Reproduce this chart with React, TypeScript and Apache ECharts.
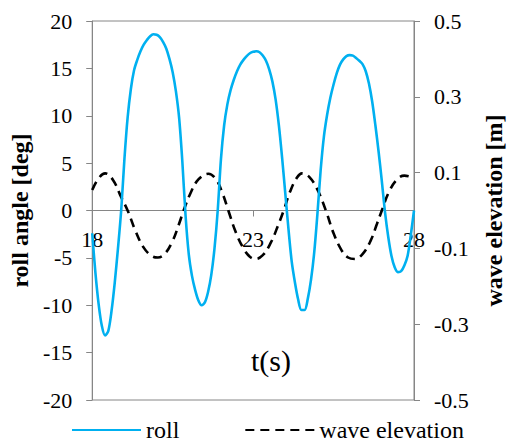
import React, { useEffect, useRef } from "react";
import * as echarts from "echarts";

// time [s] and roll angle [deg]
const rollTime = [
  18.0, 18.1, 18.2, 18.3, 18.4, 18.5, 18.6, 18.7, 18.8, 18.9,
  19.0, 19.1, 19.2, 19.3, 19.4, 19.5, 19.6, 19.7, 19.8, 19.9,
  20.0, 20.1, 20.2, 20.3, 20.4, 20.5, 20.6, 20.7, 20.8, 20.9,
  21.0, 21.1, 21.2, 21.3, 21.4, 21.5, 21.6, 21.7, 21.8, 21.9,
  22.0, 22.1, 22.2, 22.3, 22.4, 22.5, 22.6, 22.7, 22.8, 22.9,
  23.0, 23.1, 23.2, 23.3, 23.4, 23.5, 23.6, 23.7, 23.8, 23.9,
  24.0, 24.1, 24.2, 24.3, 24.4, 24.5, 24.6, 24.7, 24.8, 24.9,
  25.0, 25.1, 25.2, 25.3, 25.4, 25.5, 25.6, 25.7, 25.8, 25.9,
  26.0, 26.1, 26.2, 26.3, 26.4, 26.5, 26.6, 26.7, 26.8, 26.9,
  27.0, 27.1, 27.2, 27.3, 27.4, 27.5, 27.6, 27.7, 27.8, 27.9,
  28.0,
];
const rollValues = [
  -2.4, -6.6, -9.9, -12.2, -13.2, -12.7, -10.6, -7.6, -4.0, 0.0,
  5.4, 9.8, 12.8, 14.8, 15.9, 16.8, 17.5, 18.0, 18.4, 18.6,
  18.55, 18.3, 17.8, 17.1, 16.0, 14.6, 12.6, 9.8, 5.2, -0.5,
  -4.6, -6.9, -8.4, -9.5, -10.0, -9.7, -8.6, -6.8, -4.0, 0.0,
  5.4, 9.0, 11.2, 12.7, 13.8, 14.7, 15.4, 15.9, 16.3, 16.6,
  16.75, 16.8, 16.7, 16.35, 15.8, 14.9, 13.6, 11.7, 9.0, 5.6,
  1.8, -2.0, -5.4, -7.6, -9.4, -10.5, -10.5, -9.3, -7.3, -4.4,
  -0.3, 4.3, 7.8, 10.1, 11.9, 13.3, 14.5, 15.4, 15.95, 16.3,
  16.4, 16.35, 16.1, 15.8, 15.45, 14.7, 13.4, 11.5, 9.0, 6.2,
  3.1, -0.2, -2.8, -4.8, -6.0, -6.5, -6.4, -5.8, -4.8, -2.6,
  0.0,
];

// time [s] and wave elevation [m]
const waveTime = [
  18.0, 18.2, 18.4, 18.65, 18.9, 19.1, 19.35, 19.6, 19.85, 20.04, 20.25, 20.5, 20.7, 20.84, 21.05, 21.3,
  21.61, 21.85, 22.05, 22.23, 22.45, 22.7, 22.9, 23.07, 23.3, 23.55, 23.75, 23.95, 24.15, 24.35, 24.52, 24.75,
  25.0, 25.26, 25.5, 25.75, 25.95, 26.16, 26.4, 26.65, 26.85, 27.0, 27.2, 27.45, 27.7, 27.85, 28.0,
];
const waveValues = [
  0.054, 0.085, 0.098, 0.08, 0.035, 0.0, -0.055, -0.098, -0.12, -0.124, -0.115, -0.08, -0.035, 0.0, 0.045, 0.082,
  0.097, 0.082, 0.045, 0.0, -0.055, -0.1, -0.122, -0.128, -0.118, -0.085, -0.045, 0.0, 0.05, 0.085, 0.098, 0.088,
  0.055, 0.0, -0.06, -0.105, -0.124, -0.128, -0.115, -0.08, -0.035, 0.0, 0.045, 0.08, 0.092, 0.09, 0.086,
];

const xTicks = [18, 23, 28];
const rightTicks = [-0.5, -0.3, -0.1, 0.1, 0.3, 0.5];

const FONT = "Liberation Serif";
const AXIS_GRAY = "#868686";

export default function App() {
  const ref = useRef<HTMLDivElement>(null);
  useEffect(() => {
    const chart = echarts.init(ref.current!, null, { renderer: "svg" });
    chart.setOption({
      animation: false,
      textStyle: { fontFamily: FONT },
      grid: {
        left: 90,
        right: 89,
        top: 21,
        bottom: 43,
        show: true,
        borderColor: AXIS_GRAY,
        borderWidth: 1,
      },
      legend: {
        left: 66,
        top: 413,
        itemWidth: 69,
        itemHeight: 14,
        itemGap: 65,
        itemStyle: { opacity: 0 },
        textStyle: { fontFamily: FONT, fontSize: 24, color: "#000" },
        data: ["roll", "wave elevation"],
      },
      graphic: [
        {
          type: "text",
          x: 271,
          y: 360,
          style: {
            text: "t(s)",
            fontFamily: FONT,
            fontSize: 30,
            fill: "#000",
            align: "center",
            verticalAlign: "middle",
          },
        },
      ],
      xAxis: {
        type: "value",
        min: 18,
        max: 28,
        offset: -189.5,
        axisLine: { onZero: false, lineStyle: { color: AXIS_GRAY, width: 1 } },
        axisTick: { show: true, customValues: xTicks, length: 6, lineStyle: { color: AXIS_GRAY } },
        axisLabel: {
          customValues: xTicks,
          margin: 18,
          fontFamily: FONT,
          fontSize: 22,
          color: "#000",
        },
        splitLine: { show: false },
      },
      yAxis: [
        {
          type: "value",
          min: -20,
          max: 20,
          interval: 5,
          position: "left",
          name: "roll angle [deg]",
          nameLocation: "middle",
          nameGap: 57,
          nameRotate: 90,
          nameTextStyle: { fontFamily: FONT, fontSize: 24, fontWeight: "bold", color: "#000" },
          axisLine: { show: true, onZero: false, lineStyle: { color: AXIS_GRAY, width: 1 } },
          axisTick: { show: true, length: 6, lineStyle: { color: AXIS_GRAY } },
          axisLabel: { margin: 20, fontFamily: FONT, fontSize: 22, color: "#000" },
          splitLine: { show: false },
        },
        {
          type: "value",
          min: -0.5,
          max: 0.5,
          position: "right",
          name: "wave elevation [m]",
          nameLocation: "middle",
          nameGap: 68,
          nameRotate: 90,
          nameTextStyle: { fontFamily: FONT, fontSize: 24, fontWeight: "bold", color: "#000" },
          axisLine: { show: true, onZero: false, lineStyle: { color: AXIS_GRAY, width: 1 } },
          axisTick: { show: true, customValues: rightTicks, length: 6, lineStyle: { color: AXIS_GRAY } },
          axisLabel: {
            customValues: rightTicks,
            margin: 20,
            fontFamily: FONT,
            fontSize: 22,
            color: "#000",
            formatter: (v: number) => v.toFixed(1),
          },
          splitLine: { show: false },
        },
      ],
      series: [
        {
          name: "roll",
          type: "line",
          yAxisIndex: 0,
          data: rollTime.map((t, i) => [t, rollValues[i]]),
          showSymbol: false,
          symbol: "none",
          smooth: 0.3,
          lineStyle: { color: "#00B0F0", width: 2.6 },
          itemStyle: { color: "#00B0F0" },
          z: 3,
        },
        {
          name: "wave elevation",
          type: "line",
          yAxisIndex: 1,
          data: waveTime.map((t, i) => [t, waveValues[i]]),
          showSymbol: false,
          symbol: "none",
          smooth: 0.4,
          lineStyle: { color: "#000", width: 2.6, type: [9, 6] },
          itemStyle: { color: "#000" },
          z: 2,
        },
      ],
    });
    return () => chart.dispose();
  }, []);
  return (
    <div
      ref={ref}
      style={{ position: "fixed", left: 0, top: 0, width: 514, height: 443, background: "#fff" }}
    />
  );
}
